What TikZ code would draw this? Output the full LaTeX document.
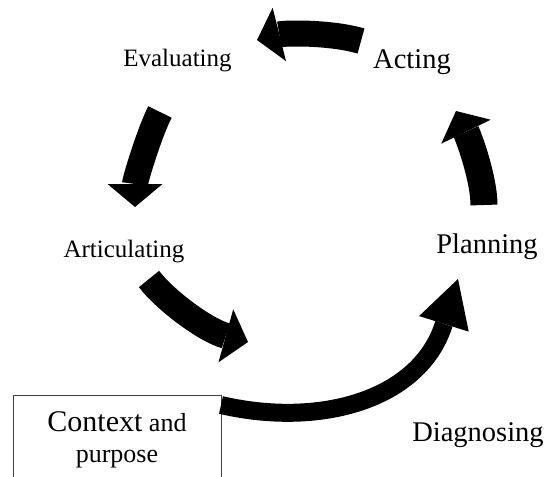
\documentclass[tikz,border=0pt]{standalone}
\usepackage{fontspec}
\setmainfont{Liberation Serif}
\usetikzlibrary{arrows.meta}

\begin{document}
\begin{tikzpicture}[
    x=1pt, y=-1pt,
    stage/.style={anchor=base, inner sep=0pt, font=\fontsize{28.5}{34}\selectfont},
    smallstage/.style={stage, font=\fontsize{25}{30}\selectfont},
    cyc/.style={line width=26pt, -{Triangle[width=55pt,length=23pt,line width=0pt]}},
    bigcyc/.style={line width=18pt, -{Triangle[width=52pt,length=47pt,line width=0pt]}},
    ctxbox/.style={draw=black!75, line width=0.8pt, anchor=north, align=center, minimum width=208pt, inner ysep=16pt, font=\fontsize{26}{31}\selectfont}
]
    \useasboundingbox (0,0) rectangle (547,477);

    \node[smallstage] (evaluating) at (177.5,66) {Evaluating};
    \node[stage] (acting) at (412,68) {Acting};
    \node[smallstage] (articulating) at (124,257) {Articulating};
    \node[stage] (planning) at (487,253) {Planning};
    \node[stage] (diagnosing) at (478,441) {Diagnosing};
    \node[ctxbox] (context) at (117,395) {{\fontsize{30}{31}\selectfont Context} and\\purpose};

    % arrow ends
    \coordinate (actTail) at (361,41);
    \coordinate (actTip) at (257,40);
    \coordinate (evaTail) at (160,112);
    \coordinate (evaTip) at (135,207);
    \coordinate (artTail) at (149,279);
    \coordinate (artTip) at (248,342);
    \coordinate (ctxTail) at (221,405);
    \coordinate (ctxTip) at (458,279);
    \coordinate (plaTail) at (484,205);
    \coordinate (plaTip) at (456,111);

    \draw[cyc] (actTail) .. controls (330,32) and (285,33) .. (actTip);
    \draw[cyc] (evaTail) .. controls (150,131) and (135,180) .. (evaTip);
    \draw[cyc] (artTail) .. controls (165,300) and (205,330) .. (artTip);
    \draw[bigcyc] (ctxTail) .. controls (320,428) and (420,400) .. (ctxTip);
    \draw[cyc, line width=27pt] (plaTail) .. controls (484,180) and (470,140) .. (plaTip);

\end{tikzpicture}
\end{document}
